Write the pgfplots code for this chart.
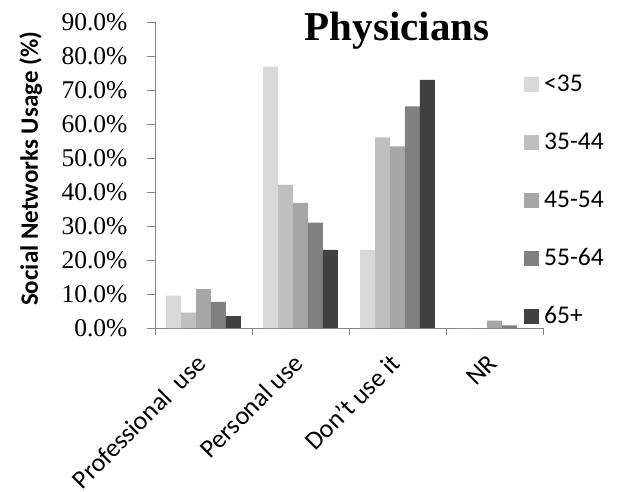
\documentclass[border=0pt]{standalone}
\usepackage{fontspec}
\setmainfont{Liberation Serif}
\newfontfamily\carlito{Carlito}
\usepackage{pgfplots}
\pgfplotsset{compat=1.18}

\definecolor{gA}{HTML}{D9D9D9}
\definecolor{gB}{HTML}{BFBFBF}
\definecolor{gC}{HTML}{A6A6A6}
\definecolor{gD}{HTML}{808080}
\definecolor{gE}{HTML}{404040}
\definecolor{axisgray}{HTML}{868686}

\begin{document}
\begin{tikzpicture}[x=1pt,y=1pt]
\useasboundingbox (0,0) rectangle (618,491);
\begin{axis}[
  at={(155pt,163pt)}, anchor=south west,
  scale only axis, width=388pt, height=306pt,
  ymin=0, ymax=90, xmin=0.5, xmax=4.5,
  ybar=0pt, bar width=14.9pt,
  axis lines*=left,
  axis line style={axisgray, line width=0.8pt},
  xtick={1,2,3,4},
  xticklabels={Professional\ \ use, Personal use, Don’t use it, NR},
  minor xtick={0.5,1.5,2.5,3.5,4.5},
  major x tick style={draw=none},
  minor x tick style={axisgray, line width=0.8pt},
  minor tick length=7pt,
  ytick={0,10,...,90},
  y tick style={axisgray, line width=0.8pt},
  major tick length=8pt,
  tick align=outside,
  /pgf/number format/assume math mode=true,
  yticklabel={\pgfmathprintnumber[fixed,fixed zerofill,precision=1]{\tick}\%},
  yticklabel style={font=\fontsize{25.5}{28}\selectfont, xshift=-16pt},
  xticklabel style={font=\carlito\fontsize{26}{30}\selectfont, xshift=-2pt, yshift=-23pt, rotate=45, anchor=east, inner sep=0pt},
  ylabel={Social Networks Usage (\%)},
  ylabel style={font=\carlito\bfseries\fontsize{25}{28}\selectfont, at={(axis description cs:-0.32,0.52)}, anchor=center, rotate=0},
  legend cell align=left,
  legend style={draw=none, fill=none, at={(axis description cs:0.951,0.83)}, anchor=north west,
    font=\carlito\fontsize{25.5}{28}\selectfont, row sep=40.6pt, inner sep=0pt, column sep=5pt,
    nodes={inner sep=0pt, text height=17pt, text depth=0pt}},
  legend image code/.code={\fill[#1] (0pt,-9pt) rectangle (15pt,6pt);},
  every axis plot/.append style={draw=none},
  clip=false,
]
\addplot[fill=gA] coordinates {(1,9.5) (2,76.9) (3,23.0) (4,0)};
\addplot[fill=gB] coordinates {(1,4.5) (2,42.1) (3,56.1) (4,0)};
\addplot[fill=gC] coordinates {(1,11.4) (2,36.8) (3,53.4) (4,2.2)};
\addplot[fill=gD] coordinates {(1,7.7) (2,31.0) (3,65.2) (4,0.8)};
\addplot[fill=gE] coordinates {(1,3.5) (2,23.0) (3,73.0) (4,0)};
\legend{<35, 35-44, 45-54, 55-64, 65+}
\node[anchor=base, font=\bfseries\fontsize{41}{46}\selectfont] at (axis description cs:0.624,0.941) {Physicians};
\end{axis}
\end{tikzpicture}
\end{document}
